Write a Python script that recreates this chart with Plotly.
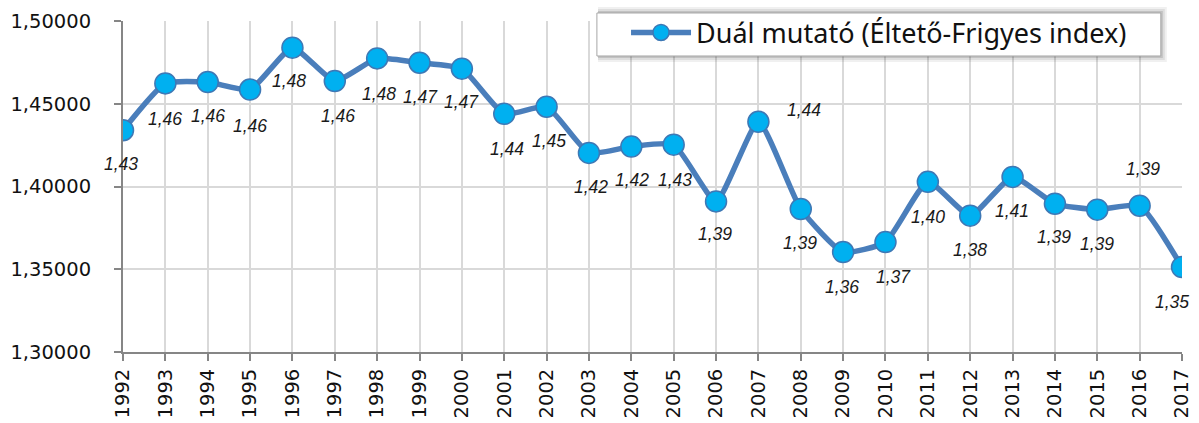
# visuals.py
import plotly.graph_objects as go

years = list(range(1992, 2018))
dual_index = [1.4340, 1.4623, 1.4631, 1.4586, 1.4839, 1.4637, 1.4774, 1.4748, 1.4712,
              1.4439, 1.4482, 1.4203, 1.4241, 1.4253, 1.3910, 1.4391, 1.3864, 1.3604,
              1.3664, 1.4028, 1.3824, 1.4058, 1.3896, 1.3860, 1.3884, 1.3513]
y_ticks = [1.30, 1.35, 1.40, 1.45, 1.50]

# label offsets in pixels (Excel placed most of them under the point)
label_dx = [-2, 0, 0, 0, -3, 3, 2, 1, 0, 3, 2, 2, 1, 1, -1, 46, -1, -1, 8, 0, 0, -1, -1, 0, 3, -10]
label_dy = [-34, -36, -34, -36, -33, -35, -36, -34, -33, -35, -34, -34, -33, -35, -33, 12,
            -34, -35, -35, -35, -34, -34, -33, -34, 37, -35]


def plot_dual_index(x, y):
    """Line chart of the dual index (Éltető-Frigyes) by year."""
    fig = go.Figure(data=[go.Scatter(
        x=x, y=y,
        mode='lines+markers',
        name='Duál mutató (Éltető-Frigyes index)',
        line=dict(color='#4A7EBB', width=5.5, shape='spline', smoothing=0.5),
        marker=dict(size=21, color='#00B0F0', line=dict(color='#3E78B5', width=1.5))
    )])

    for xi, yi, dx, dy in zip(x, y, label_dx, label_dy):
        fig.add_annotation(
            x=xi, y=yi, text=f"{yi:.2f}".replace('.', ','),
            showarrow=False, xshift=dx, yshift=dy,
            font=dict(family='Liberation Sans', size=17.5, color='#1a1a1a', style='italic')
        )

    # legend frame with a soft shadow, like the Excel original
    for grow, alpha in [(6, 0.06), (4, 0.08), (2, 0.12)]:
        fig.add_shape(type='rect', xref='paper', yref='paper', layer='above',
                      x0=0.4475 + 0.001, x1=0.980 + grow / 1057,
                      y0=0.8943 - grow / 331, y1=1.0242 + grow / 331,
                      line=dict(width=0), fillcolor=f'rgba(0,0,0,{alpha})')
    fig.add_shape(type='rect', xref='paper', yref='paper', layer='above',
                  x0=0.4475, x1=0.980, y0=0.8943, y1=1.0242,
                  line=dict(color='#a6a6a6', width=1), fillcolor='white')

    fig.update_layout(
        width=1199, height=423,
        margin=dict(l=123, r=17, t=21, b=71, autoexpand=False),
        paper_bgcolor='white', plot_bgcolor='white',
        separators=', ',
        font=dict(family='DejaVu Sans', size=19.5, color='#111111'),
        showlegend=True,
        legend=dict(
            x=0.475, y=1.038, xanchor='left', yanchor='top',
            bgcolor='rgba(0,0,0,0)', borderwidth=0,
            itemwidth=60,
            font=dict(family='Noto Sans', size=27, color='#111111')
        )
    )
    fig.update_xaxes(
        range=[1992, 2017], tickmode='array', tickvals=x, tickangle=-90,
        showgrid=True, gridcolor='#d9d9d9', gridwidth=2,
        showline=True, linecolor='#868686', linewidth=2,
        ticks='outside', ticklen=7, tickcolor='#868686', tickwidth=1.5,
        zeroline=False, automargin=False
    )
    fig.update_yaxes(
        range=[1.30, 1.50], tickmode='array', tickvals=y_ticks, tickformat='.5f',
        showgrid=True, gridcolor='#d9d9d9', gridwidth=2,
        showline=True, linecolor='#868686', linewidth=2,
        ticks='outside', ticklen=7, tickcolor='#868686', tickwidth=1.5,
        ticklabelstandoff=19,
        zeroline=False, automargin=False
    )
    return fig


fig = plot_dual_index(years, dual_index)
fig.write_html("out.html", config={'displayModeBar': False},
               post_script="document.body.style.margin = '0';")
